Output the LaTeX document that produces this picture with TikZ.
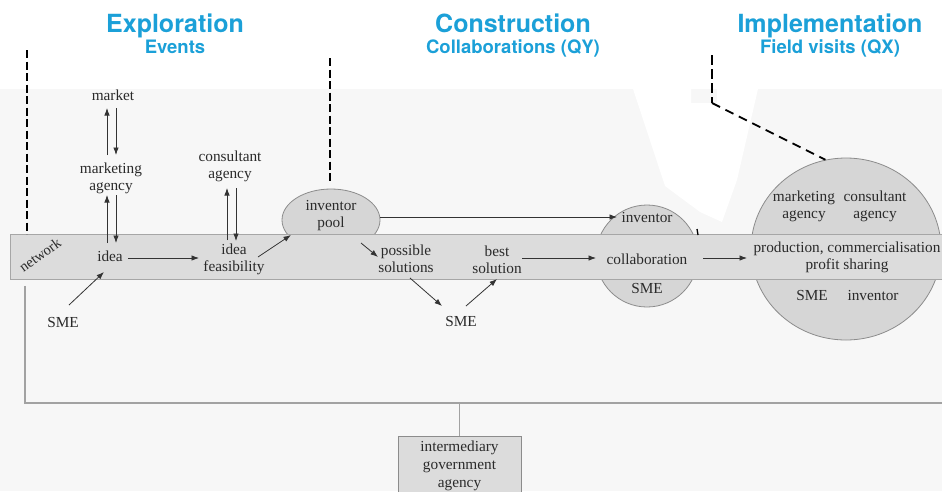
\documentclass[tikz,border=0pt]{standalone}
\usepackage{fontspec}
\setmainfont{Liberation Serif}
\newfontfamily\headfont{TeX Gyre Heros}
\usetikzlibrary{arrows.meta,shapes.geometric}

\definecolor{headblue}{HTML}{1BA0D8}
\definecolor{pagegrey}{HTML}{F7F7F7}
\definecolor{bandfill}{HTML}{DCDCDC}
\definecolor{bandline}{HTML}{A6A6A6}
\definecolor{blobfill}{HTML}{D6D6D6}
\definecolor{blobline}{HTML}{8C8C8C}
\definecolor{inkgrey}{HTML}{2A2A2A}
\definecolor{arrgrey}{HTML}{333333}
\definecolor{framegrey}{HTML}{A2A2A2}

\begin{document}
\begin{tikzpicture}[x=1pt,y=-1pt,
  lbl/.style={inner sep=0pt, align=center, text=inkgrey,
    font=\fontsize{15.3}{17}\selectfont},
  title/.style={inner sep=0pt, text=headblue,
    font=\headfont\bfseries\fontsize{25}{28}\selectfont},
  subtitle/.style={inner sep=0pt, text=headblue,
    font=\headfont\bfseries\fontsize{18.5}{21}\selectfont},
  arr/.style={draw=arrgrey, line width=0.8pt, -{Latex[length=7.5pt,width=5.5pt]}},
  dashline/.style={draw=black, line width=1.8pt, dash pattern=on 8pt off 3.5pt},
  longdash/.style={draw=black, line width=1.8pt, dash pattern=on 9pt off 6pt},
  blob/.style={fill=blobfill, draw=blobline, line width=0.8pt, inner sep=0pt},
  bandbox/.style={rectangle, fill=bandfill, draw=bandline, line width=0.8pt, inner sep=0pt},
  frameline/.style={draw=framegrey, line width=1.6pt},
  govbox/.style={rectangle, fill=bandfill, draw=blobline, line width=0.8pt,
    inner sep=0pt, align=center, text=inkgrey,
    font=\fontsize{15.3}{18}\selectfont},
]
\useasboundingbox (0,0) rectangle (942,491);

% page background: white strip on top, pale grey field below
\fill[white] (0,0) rectangle (942,491);
\fill[pagegrey] (0,89) rectangle (942,491);
\fill[white] (633,89) -- (691,89) -- (691,103) -- (717,103) -- (717,89)
  -- (758,89) -- (737,180) -- (722,222) -- (700,212) -- (665,186) -- cycle;

% phase headings
\node[title, anchor=base] (t1) at (175,32) {Exploration};
\node[subtitle, anchor=base] (s1) at (175,53) {Events};
\node[title, anchor=base] (t2) at (513,32) {Construction};
\node[subtitle, anchor=base] (s2) at (513,53) {Collaborations (QY)};
\node[title, anchor=base] (t3) at (830,32) {Implementation};
\node[subtitle, anchor=base] (s3) at (830,53) {Field visits (QX)};

% shapes lying under the network band
\node[blob, ellipse, minimum width=98, minimum height=62] (pool) at (331,220) {};
\node[blob, circle, minimum size=102] (collab) at (647,256) {};
\node[blob, ellipse, minimum width=190, minimum height=182] (impl) at (846,249) {};

% the network band
\node[bandbox, anchor=north west, minimum width=945, minimum height=45] (band) at (10,234) {};

% phase boundaries
\coordinate (d1) at (27,50);
\coordinate (d2) at (330,58);
\coordinate (d3) at (712,55);
\coordinate (d3c) at (712,103);
\draw[dashline] (d1) -- (d1 |- band.north);
\draw[dashline, shorten >=6pt] (d2) -- (d2 |- pool.north);
\draw[dashline, dash pattern=on 10pt off 4pt] (d3) -- (d3c);
\draw[longdash] (d3c) -- (impl.103);

% labels
\node[lbl, rotate=36, font=\fontsize{14.5}{17}\selectfont] (net) at (40,255) {network};
\node[lbl] (mkt) at (113,95) {market};
\node[lbl] (mag) at (111,178) {marketing\\agency};
\node[lbl] (idea) at (110,256) {idea};
\node[lbl] (sme1) at (63,323) {SME};
\node[lbl] (cons) at (230,166) {consultant\\agency};
\node[lbl] (feas) at (234,259) {idea\\feasibility};
\node[lbl] (pooltxt) at (331,216) {inventor\\pool};
\node[lbl] (poss) at (406,259) {possible\\solutions};
\node[lbl] (sme2) at (461,322) {SME};
\node[lbl] (best) at (497,260) {best\\solution};
\node[lbl] (inv2) at (647,218) {inventor};
\node[lbl] (colab) at (647,259) {collaboration};
\node[lbl] (sme3) at (647,289) {SME};
\node[lbl] (mag2) at (804,206) {marketing\\agency};
\node[lbl] (cons2) at (875,206) {consultant\\agency};
\node[lbl] (prod) at (847,257) {production, commercialisation\\profit sharing};
\node[lbl] (sme4) at (812,296) {SME};
\node[lbl] (inv3) at (873,296) {inventor};

% small mark at the right rim of the collaboration circle
\draw[black, line width=1.3pt] ([shift={(50,-27)}]collab.center) -- ([shift={(51,-21)}]collab.center);

% exploration flows
\draw[arr] ([shift={(-4,-23)}]mag.center) -- ([shift={(-6,13)}]mkt.center);
\draw[arr] ([shift={(3,13)}]mkt.center) -- ([shift={(5,-23)}]mag.center);
\draw[arr] ([shift={(-3,-13)}]idea.center) -- ([shift={(-4,17)}]mag.center);
\draw[arr] ([shift={(5,17)}]mag.center) -- ([shift={(6,-13)}]idea.center);
\draw[arr] ([shift={(6,-18)}]sme1.center) -- ([shift={(-6,16)}]idea.center);
\draw[arr] ([shift={(18,2)}]idea.center) -- ([shift={(-35,-1)}]feas.center);
\draw[arr] ([shift={(-7,-19)}]feas.center) -- ([shift={(-3,22)}]cons.center);
\draw[arr] ([shift={(6,22)}]cons.center) -- ([shift={(2,-18)}]feas.center);
\draw[arr] ([shift={(24,-2)}]feas.center) -- ([shift={(-40,15)}]pool.center);

% construction flows
\draw[arr] ([shift={(49,-3)}]pool.center) -- ([shift={(-30,-1)}]inv2.center);
\draw[arr] ([shift={(30,23)}]pool.center) -- ([shift={(-28,-2)}]poss.center);
\draw[arr] ([shift={(4,19)}]poss.center) -- ([shift={(-19,-16)}]sme2.center);
\draw[arr] ([shift={(5,-16)}]sme2.center) -- ([shift={(0,19)}]best.center);
\draw[arr] ([shift={(25,-2)}]best.center) -- ([shift={(-51,-1)}]colab.center);

% implementation flow
\draw[arr] ([shift={(56,-1)}]colab.center) -- ([shift={(-100,1)}]prod.center);

% support frame and the intermediary agency
\coordinate (fr) at (25,403);
\draw[frameline] ([shift={(0,6)}]fr |- band.south) -- (fr) -- (945,403);
\node[govbox, anchor=north, minimum width=123, minimum height=58] (gov) at (459.5,436)
  {intermediary\\government\\agency};
\draw[frameline, line width=1.2pt] (gov.north) -- (gov.north |- fr);
\end{tikzpicture}
\end{document}
